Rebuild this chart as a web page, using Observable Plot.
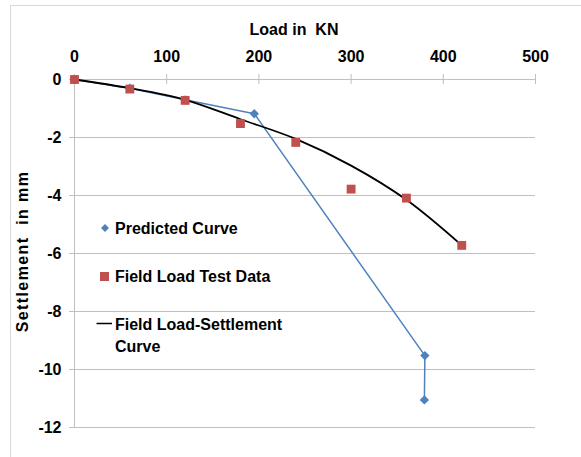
<!DOCTYPE html>
<html><head><meta charset="utf-8">
<script src="https://cdn.jsdelivr.net/npm/d3@7"></script>
<script src="https://cdn.jsdelivr.net/npm/@observablehq/plot@0.6"></script>
<style>
body{margin:0;background:#fff;}
#chart{position:relative;width:581px;height:457px;overflow:hidden;}
</style>
</head><body><div id="chart"></div>
<script>
// ---- data ----
const loadTicks = [0, 100, 200, 300, 400, 500];
const settlementTicks = [0, -2, -4, -6, -8, -10, -12];
const predictedLoad = [0, 60, 120, 195, 380, 379.5];
const predictedSettlement = [0, -0.3, -0.7, -1.18, -9.52, -11.05];
const fieldLoad = [0, 60, 120, 180, 240, 300, 360, 420];
const fieldSettlement = [0, -0.33, -0.72, -1.52, -2.17, -3.78, -4.09, -5.72];
const curveLoad = [0, 60, 120, 180, 240, 300, 360, 420];
const curveSettlement = [0, -0.3, -0.7, -1.37, -2.05, -2.97, -4.15, -5.72];
const seriesNames = ["Predicted Curve", "Field Load Test Data", "Field Load-Settlement", "Curve"];
const xTitle = "Load in  KN";
const yTitle = "Settlement  in mm";

const blue = "#4f81bd", red = "#c0504d", grid = "#bfbfbf";
const FONT = "'Liberation Sans', Arial, sans-serif";

const predicted = predictedLoad.map((x, i) => ({x, y: predictedSettlement[i]}));
const field = fieldLoad.map((x, i) => ({x, y: fieldSettlement[i]}));
const curve = curveLoad.map((x, i) => ({x, y: curveSettlement[i]}));

const plot = Plot.plot({
  width: 581, height: 457,
  marginLeft: 74, marginRight: 46, marginTop: 79, marginBottom: 30,
  x: {domain: [0, 500]},
  y: {domain: [-12, 0]},
  style: {fontFamily: FONT, fontSize: "16px", fontWeight: "bold", color: "#000", background: "transparent"},
  marks: [
    Plot.ruleY(settlementTicks, {y: d => d, x1: 0, x2: 500, stroke: grid}),
    Plot.ruleX([0], {stroke: grid}),
    Plot.ruleX(loadTicks, {x: d => d, y1: 0, y2: 0, insetTop: -5, insetBottom: -5, stroke: grid}),
    Plot.axisY({ticks: settlementTicks, tickSize: 5, tickPadding: 8, stroke: grid, fill: "#000", tickFormat: d => String(d), label: null}),
    Plot.axisX({anchor: "top", ticks: loadTicks, tickSize: 0, tickPadding: 18, fill: "#000", tickFormat: d => String(d), label: null}),
    Plot.line(predicted, {x: "x", y: "y", stroke: blue, strokeWidth: 1.5}),
    Plot.dot(predicted, {x: "x", y: "y", symbol: "diamond2", r: 4.2, fill: blue, stroke: "none"}),
    Plot.line(curve, {x: "x", y: "y", stroke: "#000", strokeWidth: 1.8, curve: "catmull-rom"}),
    Plot.dot(field, {x: "x", y: "y", symbol: "square", r: 5, fill: red, stroke: "none"})
  ]
});

const svg = d3.select(plot);
// outer border
svg.insert("rect", ":first-child")
  .attr("x", 10.5).attr("y", 5.5).attr("width", 600).attr("height", 500)
  .attr("fill", "none").attr("stroke", "#d9d9d9");

const txt = (x, y, s) => svg.append("text")
  .attr("x", x).attr("y", y).text(s)
  .attr("font-family", FONT).attr("font-size", 16).attr("font-weight", "bold")
  .attr("text-anchor", "start")
  .attr("fill", "#000").attr("xml:space", "preserve").style("white-space", "pre");

// titles
txt(294, 35, xTitle).attr("text-anchor", "middle");
txt(0, 0, yTitle).attr("text-anchor", "middle")
  .attr("transform", "translate(28,251.5) rotate(-90)")
  .attr("letter-spacing", "1.4px");

// legend
const lg = svg.append("g");
lg.append("path").attr("d", d3.symbol(d3.symbolDiamond2, 40)()).attr("transform", "translate(105,228)").attr("fill", blue);
txt(115, 234, seriesNames[0]);
lg.append("rect").attr("x", 100).attr("y", 272).attr("width", 9).attr("height", 9).attr("fill", red);
txt(115, 282, seriesNames[1]);
lg.append("line").attr("x1", 96.5).attr("x2", 112).attr("y1", 323.5).attr("y2", 323.5).attr("stroke", "#000").attr("stroke-width", 1.5);
txt(115, 330, seriesNames[2]);
txt(115, 352, seriesNames[3]);

document.getElementById("chart").appendChild(plot);
</script>
</body></html>
